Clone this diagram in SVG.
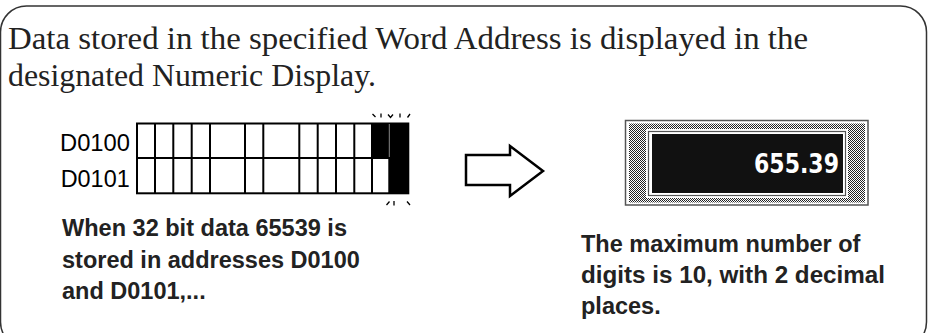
<svg xmlns="http://www.w3.org/2000/svg" width="928" height="333" viewBox="0 0 928 333">
<style>
.title{font-family:"Liberation Serif","Times New Roman",serif;font-size:32px;fill:#222}
.cap{font-family:"Liberation Sans",Arial,sans-serif;font-size:23.5px;font-weight:bold;fill:#222}
.lbl{font-family:"Liberation Sans",Arial,sans-serif;font-size:24px;fill:#000}
.tick{stroke:#000;stroke-width:1.3;fill:none}
</style>
<defs>
<pattern id="checker" x="0" y="0" width="2" height="2" patternUnits="userSpaceOnUse">
<rect width="2" height="2" fill="#fff"/>
<rect width="1" height="1" fill="#222"/>
<rect x="1" y="1" width="1" height="1" fill="#222"/>
</pattern>
</defs>
<rect x="0.5" y="6" width="926" height="342" rx="26" ry="26" fill="#fff" stroke="#333" stroke-width="1.5"/>
<text class="title" x="8" y="49" textLength="800" lengthAdjust="spacingAndGlyphs">Data stored in the specified Word Address is displayed in the</text>
<text class="title" x="8" y="86" textLength="368" lengthAdjust="spacingAndGlyphs">designated Numeric Display.</text>

<g id="word-grid">
<text class="lbl" x="60" y="150.7" textLength="70" lengthAdjust="spacingAndGlyphs">D0100</text>
<text class="lbl" x="60.7" y="186.7" textLength="69" lengthAdjust="spacingAndGlyphs">D0101</text>
<rect x="372" y="123.5" width="36.5" height="34.5" fill="#000"/>
<rect x="389.3" y="158" width="19.2" height="35.3" fill="#000"/>
<g stroke="#000" stroke-width="2" fill="none">
<rect x="137" y="123.5" width="271.3" height="69.8"/>
<line x1="137" y1="158" x2="408.3" y2="158"/>
<path d="M155 123.5V193.3M173.3 123.5V193.3M191.7 123.5V193.3M210 123.5V193.3M245 123.5V193.3M263.3 123.5V193.3M299.3 123.5V193.3M317.7 123.5V193.3M336 123.5V193.3M354.3 123.5V193.3M372 123.5V193.3M389.3 158V193.3"/>
</g>
<line x1="389.3" y1="124" x2="389.3" y2="157" stroke="#888" stroke-width="1"/>
<g class="tick">
<path d="M372.5 114L375.5 117M381 113.5V117.5M388 114.5L390.5 117.5L393 114.5M400 113.5V117.5M410 114L407.5 117.5"/>
<path d="M386.5 205L389.5 201.5M394 201V205.5M407 201.5L410 205"/>
</g>
</g>

<g id="caption-left">
<text class="cap" x="62" y="236" textLength="285" lengthAdjust="spacingAndGlyphs">When 32 bit data 65539 is</text>
<text class="cap" x="62" y="268">stored in addresses D0100</text>
<text class="cap" x="62" y="299">and D0101,...</text>
</g>

<g id="connectors">
<path d="M466 155H510V146L543 171L510 196V185H466Z" fill="#fff" stroke="#000" stroke-width="2.5" stroke-linejoin="miter"/>
</g>

<g id="numeric-display">
<rect x="625.5" y="120.5" width="242.5" height="84.5" fill="#fff" stroke="#555" stroke-width="1.5"/>
<rect x="629" y="123.5" width="236" height="79" fill="url(#checker)"/>
<rect x="646" y="129" width="202" height="69" fill="#fff"/>
<rect x="648.5" y="131.5" width="197" height="64" fill="none" stroke="#555" stroke-width="1.2"/>
<rect x="652" y="134" width="191" height="59" fill="#111"/>
<text x="839" y="173" text-anchor="end" font-family="'DejaVu Sans','Liberation Sans',sans-serif" font-size="26" font-weight="bold" fill="#fff" textLength="85" lengthAdjust="spacingAndGlyphs">655.39</text>
</g>

<g id="caption-right">
<text class="cap" x="581" y="252">The maximum number of</text>
<text class="cap" x="581" y="283" textLength="304" lengthAdjust="spacingAndGlyphs">digits is 10, with 2 decimal</text>
<text class="cap" x="581" y="314">places.</text>
</g>
</svg>
